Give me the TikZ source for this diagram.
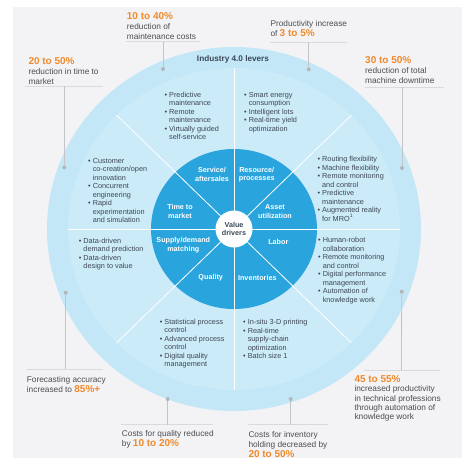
\documentclass[tikz,border=0pt]{standalone}
\usepackage{fontspec}
\setmainfont{Liberation Sans}
\usetikzlibrary{calc}
\definecolor{bg}{HTML}{F3F3F5}
\definecolor{ringout}{HTML}{C3E7F7}
\definecolor{ringmid}{HTML}{CCEBF9}
\definecolor{core}{HTML}{2AA4DD}
\definecolor{orng}{HTML}{F08A2C}
\definecolor{txt}{HTML}{4A4D52}
\definecolor{btxt}{HTML}{3D4654}
\definecolor{ttl}{HTML}{3C4858}
\definecolor{lead}{HTML}{C2C4C7}
\definecolor{ulc}{HTML}{D9DADC}
\definecolor{dotc}{HTML}{B3B6BA}
\newcommand{\fsz}[2]{\fontsize{#1}{#2}\selectfont}
\newcommand{\num}[1]{{\color{orng}\bfseries\fsz{10}{10}#1}}
\newcommand{\bl}{\textbullet\ }
\newcommand{\ind}{\phantom{\textbullet\ }}
\begin{document}
\begin{tikzpicture}[x=1pt,y=-1pt,
  % multi-line nodes: the base anchor is the baseline of the LAST line
  callout/.style={anchor=base west, align=left, inner sep=0pt, text=txt, font=\fsz{8.3}{9.8}},
  bullets/.style={anchor=base west, align=left, inner sep=0pt, text=btxt, font=\fsz{7.3}{8.5}},
  corelabel/.style={align=center, inner sep=0pt, text=white, font=\bfseries\fsz{7.2}{8.3}},
  leaddot/.style={circle, fill=dotc, inner sep=0pt, minimum size=4pt},
  leadline/.style={draw=lead, line width=0.8pt},
  underl/.style={draw=ulc, line width=0.9pt},
  divider/.style={draw=white, line width=0.8pt},
]
\useasboundingbox (0,0) rectangle (474,467);
\fill[white] (0,0) rectangle (474,467);
\fill[bg] (13,7) rectangle (462,458);
\coordinate (c) at (234,229);
\fill[ringout] (c) ellipse [x radius=187pt, y radius=182pt];
\fill[ringmid] (c) ellipse [x radius=166pt, y radius=161pt];
\fill[core] (c) ellipse [x radius=83pt, y radius=80pt];
\foreach \a in {0,45,...,315}
  \draw[divider] (c) -- ($(c)+(\a:166pt and 161pt)$);
\node[circle, fill=white, minimum size=37pt, inner sep=0pt, align=center,
      text=ttl, font=\bfseries\fsz{7.2}{8.3}] (vd) at (c) {Value\\drivers};

% title
\node[anchor=base, inner sep=0pt, text=ttl, font=\bfseries\fsz{8.2}{10}] (title) at (233,61) {Industry 4.0 levers};

% core labels
\node[corelabel] (l1) at (212,174.5) {Service/\\aftersales};
\node[corelabel] (l2) at (256.7,174.5) {Resource/\\processes};
\node[corelabel] (l3) at (180,211.5) {Time to\\market};
\node[corelabel] (l4) at (275,211.5) {Asset\\utilization};
\node[corelabel] (l5) at (183.3,245) {Supply/demand\\matching};
\node[corelabel] (l6) at (278.3,242) {Labor};
\node[corelabel] (l7) at (210.7,277.5) {Quality};
\node[corelabel] (l8) at (257.3,277.5) {Inventories};

% bullet lists (positions = baseline of last line)
\node[bullets] (b1) at (164.4,139.5) {\bl Predictive\\\ind maintenance\\\bl Remote\\\ind maintenance\\\bl Virtually guided\\\ind self-service};
\node[bullets] (b2) at (244,131.3) {\bl Smart energy\\\ind consumption\\\bl Intelligent lots\\\bl Real-time yield\\\ind optimization};
\node[bullets] (b3) at (317.4,221) {\bl Routing flexibility\\\bl Machine flexibility\\\bl Remote monitoring\\\ind and control\\\bl Predictive\\\ind maintenance\\\bl Augmented reality\\\ind for MRO\textsuperscript{1}};
\node[bullets] (b4) at (318,302) {\bl Human-robot\\\ind collaboration\\\bl Remote monitoring\\\ind and control\\\bl Digital performance\\\ind management\\\bl Automation of\\\ind knowledge work};
\node[bullets] (b5) at (88,222.5) {\bl Customer\\\ind co-creation/open\\\ind innovation\\\bl Concurrent\\\ind engineering\\\bl Rapid\\\ind experimentation\\\ind and simulation};
\node[bullets] (b6) at (78.7,268.5) {\bl Data-driven\\\ind demand prediction\\\bl Data-driven\\\ind design to value};
\node[bullets] (b7) at (159.7,366.8) {\bl Statistical process\\\ind control\\\bl Advanced process\\\ind control\\\bl Digital quality\\\ind management};
\node[bullets] (b8) at (243,358.7) {\bl In-situ 3-D printing\\\bl Real-time\\\ind supply-chain\\\ind optimization\\\bl Batch size 1};

% callouts (positions = baseline of last line)
\node[callout] (k1) at (126.7,39) {\num{10 to 40\%}\\reduction of\\maintenance costs};
\node[callout] (k2) at (270.3,36.5) {Productivity increase\\of \num{3 to 5\%}};
\node[callout] (k3) at (28.3,84.5) {\num{20 to 50\%}\\reduction in time to\\market};
\node[callout] (k4) at (365,83.5) {\num{30 to 50\%}\\reduction of total\\machine downtime};
\node[callout] (k5) at (26.7,392.2) {Forecasting accuracy\\increased to \num{85\%+}};
\node[callout] (k6) at (121.7,446.5) {Costs for quality reduced\\by \num{10 to 20\%}};
\node[callout] (k7) at (248.3,457) {Costs for inventory\\holding decreased by\\\num{20 to 50\%}};
\node[callout, font=\fsz{8.3}{9.2}] (k8) at (354.3,419.5) {\num{45 to 55\%}\\increased productivity\\in technical professions\\through automation of\\knowledge work};

% underlines
\coordinate (u1a) at (126,41.7); \coordinate (u1b) at (200,41.7);
\coordinate (u2a) at (270,42.3); \coordinate (u2b) at (347,42.3);
\coordinate (u3a) at (25,86);    \coordinate (u3b) at (103,86);
\coordinate (u4a) at (365,87.3); \coordinate (u4b) at (444,87.3);
\coordinate (u5a) at (27,369.3); \coordinate (u5b) at (103,369.3);
\coordinate (u6a) at (121,424.5); \coordinate (u6b) at (213,424.5);
\coordinate (u7a) at (248,424.5); \coordinate (u7b) at (328,424.5);
\coordinate (u8a) at (364,370); \coordinate (u8b) at (440,370);
\foreach \i in {1,...,8} \draw[underl] (u\i a) -- (u\i b);

% junctions
\coordinate (j1) at (163,41.7);
\coordinate (j2) at (308.7,42.3);
\coordinate (j3) at (64.3,86);
\coordinate (j4) at (402,87.3);
\coordinate (j5) at (65.7,369.3);
\coordinate (j6) at (167.7,424.5);
\coordinate (j7) at (290.7,424.5);
\coordinate (j8) at (401.5,370);

% dots
\node[leaddot] (d1) at (163,69) {};
\node[leaddot] (d2) at (308.7,69.3) {};
\node[leaddot] (d3) at (64.3,167.3) {};
\node[leaddot] (d4) at (402,168) {};
\node[leaddot] (d5) at (65.7,292.7) {};
\node[leaddot] (d6) at (167.7,399) {};
\node[leaddot] (d7) at (290.7,399) {};
\node[leaddot] (d8) at (401.7,291.7) {};
\foreach \i in {1,...,8} \draw[leadline] (d\i) -- (j\i);
\end{tikzpicture}
\end{document}
